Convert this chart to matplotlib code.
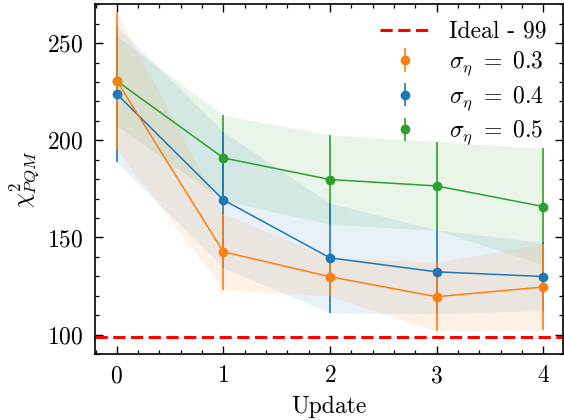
import numpy as np
import matplotlib
matplotlib.use("Agg")
import matplotlib.pyplot as plt

plt.rcParams['font.family'] = 'serif'
plt.rcParams['font.serif'] = ['cmr10']
plt.rcParams['mathtext.fontset'] = 'cm'
plt.rcParams['axes.formatter.use_mathtext'] = True
plt.rcParams['font.size'] = 17

# Data
updates = [0, 1, 2, 3, 4]
ideal = 99

labels = [r'$\sigma_\eta\ =\ 0.3$', r'$\sigma_\eta\ =\ 0.4$', r'$\sigma_\eta\ =\ 0.5$']
colors = ['#ff7f0e', '#1f77b4', '#2ca02c']

mean_03 = [230.5, 142.6, 129.8, 119.5, 124.5]
err_03 = [35.0, 19.5, 10.0, 17.7, 22.3]
mean_04 = [223.8, 169.3, 139.5, 132.3, 129.9]
err_04 = [35.0, 35.0, 28.2, 21.6, 17.5]
mean_05 = [230.5, 190.9, 179.8, 176.5, 165.9]
err_05 = [23.0, 22.0, 23.0, 22.8, 30.0]

means = [mean_03, mean_04, mean_05]
errs = [err_03, err_04, err_05]

fig = plt.figure(figsize=(5.64, 4.2), dpi=100)
ax = fig.add_axes([0.1684, 0.157, 0.8296, 0.833])

ideal_line = ax.axhline(ideal, color='red', linestyle='--', linewidth=2.2,
                        dashes=(4, 1.8), label='Ideal - 99')

handles = {}
# draw 0.5 first so that 0.3 ends up on top, as in the reference
for i in [2, 1, 0]:
    m = np.array(means[i])
    e = np.array(errs[i])
    ax.fill_between(updates, m - e, m + e, color=colors[i], alpha=0.1, linewidth=0)
    ax.plot(updates, m, color=colors[i], linewidth=1.1, zorder=2.1)
    h = ax.errorbar(updates, m, yerr=e, fmt='o', color=colors[i], markersize=6,
                    elinewidth=1.2, capsize=0, label=labels[i])
    handles[i] = h

ax.set_xlim(-0.205, 4.185)
ax.set_ylim(90, 270)
ax.set_xticks(updates)
ax.set_yticks([100, 150, 200, 250])
ax.xaxis.set_minor_locator(matplotlib.ticker.MultipleLocator(0.2))
ax.yaxis.set_minor_locator(matplotlib.ticker.MultipleLocator(10))
ax.tick_params(which='both', direction='in', top=True, right=True)
ax.tick_params(which='major', length=5.5, width=1.0, pad=8)
ax.tick_params(which='minor', length=3.2, width=0.9)
for s in ax.spines.values():
    s.set_linewidth(1.2)

ax.set_xlabel('Update', labelpad=6)
ax.set_ylabel(r'$\chi^2_{PQM}$', labelpad=4)

ax.legend([ideal_line, handles[0], handles[1], handles[2]],
          ['Ideal - 99'] + labels, loc='upper right', frameon=False,
          handlelength=2.1, labelspacing=0.28, borderaxespad=0.3,
          handletextpad=0.8)

fig.savefig('out.png', dpi=100)
